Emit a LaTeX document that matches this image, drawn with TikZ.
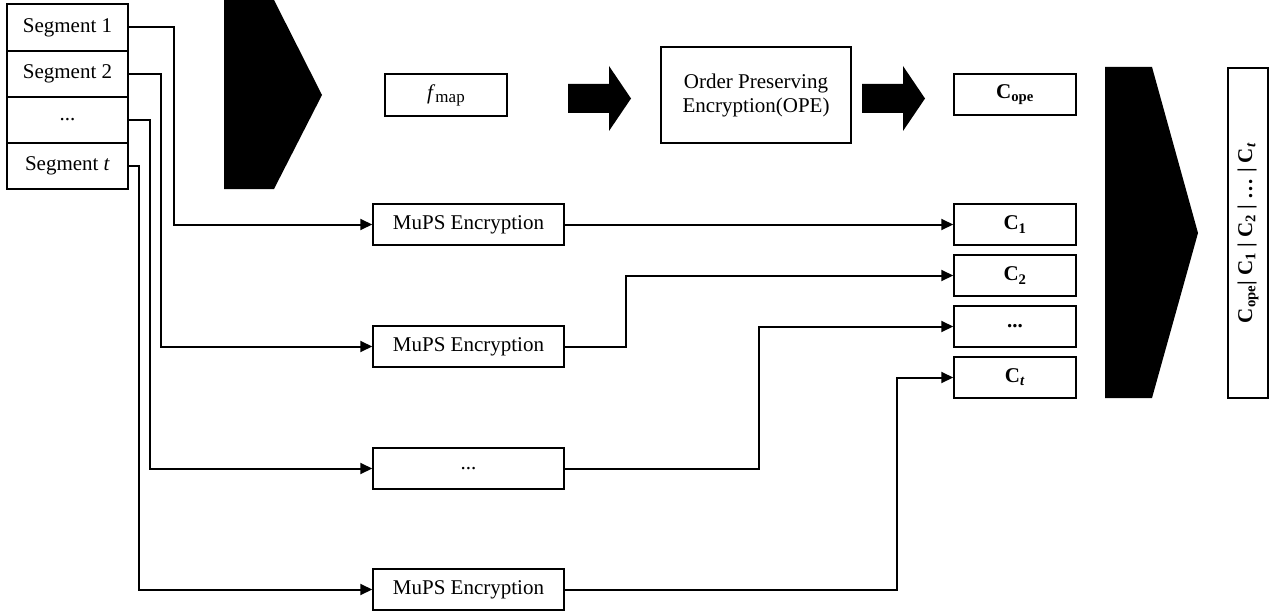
\documentclass[tikz,border=0pt]{standalone}
\usepackage{fontspec}
\setmainfont{Liberation Serif}
\usetikzlibrary{arrows.meta}
\begin{document}
\begin{tikzpicture}[x=1pt,y=-1pt,
  font=\fontsize{21}{24}\selectfont,
  box/.style={draw,line width=1.5pt,inner sep=0pt,align=center},
  conn/.style={line width=2pt,-{Triangle[length=12pt,width=11pt]}},
  link/.style={line width=2pt}]
\useasboundingbox (0,0) rectangle (1282,615);
% segments
\node[box,minimum width=121pt,minimum height=47pt] (seg1) at (67.5,27.5) {Segment 1};
\node[box,minimum width=121pt,minimum height=46pt] (seg2) at (67.5,74) {Segment 2};
\node[box,minimum width=121pt,minimum height=46pt] (seg3) at (67.5,120) {...};
\node[box,minimum width=121pt,minimum height=46pt] (segt) at (67.5,166) {Segment \textit{t}};
% left chevron
\fill (224,0) -- (274,0) -- (322,95) -- (274,189) -- (224,189) -- cycle;
% top row
\node[box,minimum width=122pt,minimum height=42pt] (fmap) at (446,95) {\textit{f}\raisebox{-3pt}{\fontsize{17}{17}\selectfont map}};
\fill (568,84) -- (609,84) -- (609,66) -- (631,98.5) -- (609,131) -- (609,113) -- (568,113) -- cycle;
\node[box,minimum width=190pt,minimum height=96pt] (ope) at (756,95) {Order Preserving\\Encryption(OPE)};
\fill (862,84) -- (903,84) -- (903,66) -- (925,98.5) -- (903,131) -- (903,113) -- (862,113) -- cycle;
\node[box,minimum width=122pt,minimum height=41pt] (cope) at (1015,94.5) {\textbf{C\textsubscript{ope}}};
% MuPS boxes
\node[box,minimum width=191pt,minimum height=41pt] (m1) at (468.5,224.5) {MuPS Encryption};
\node[box,minimum width=191pt,minimum height=41pt] (m2) at (468.5,346.5) {MuPS Encryption};
\node[box,minimum width=191pt,minimum height=41pt] (m3) at (468.5,468.5) {...};
\node[box,minimum width=191pt,minimum height=41pt] (m4) at (468.5,589.5) {MuPS Encryption};
% C boxes
\node[box,minimum width=122pt,minimum height=41pt] (c1) at (1015,224.5) {\textbf{C\textsubscript{1}}};
\node[box,minimum width=122pt,minimum height=41pt] (c2) at (1015,275.5) {\textbf{C\textsubscript{2}}};
\node[box,minimum width=122pt,minimum height=41pt] (c3) at (1015,326.5) {\textbf{...}};
\node[box,minimum width=122pt,minimum height=41pt] (ct) at (1015,377.5) {\textbf{C}\textsubscript{\textbf{\textit{t}}}};
% right chevron
\fill (1105,67) -- (1152,67) -- (1198,233) -- (1152,398) -- (1105,398) -- cycle;
% result
\node[box,minimum width=40pt,minimum height=330pt] (res) at (1248,233) {};
\node[rotate=90] (restext) at (res.center) {\textbf{C\textsubscript{ope}| C\textsubscript{1} | C\textsubscript{2} | … | C}\textsubscript{\textbf{\textit{t}}}};
% connectors segments -> MuPS
\draw[conn] (seg1.east) -- ++(45,0) |- (m1.west);
\draw[conn] (seg2.east) -- ++(32,0) |- (m2.west);
\draw[conn] (seg3.east) -- ++(21,0) |- (m3.west);
\draw[conn] (segt.east) -- ++(10,0) |- (m4.west);
% MuPS -> C
\draw[conn] (m1.east) -- (c1.west);
\draw[conn] (m2.east) -- ++(61,0) |- (c2.west);
\draw[conn] (m3.east) -- ++(194,0) |- (c3.west);
\draw[conn] (m4.east) -- ++(332,0) |- (ct.west);
\end{tikzpicture}
\end{document}
